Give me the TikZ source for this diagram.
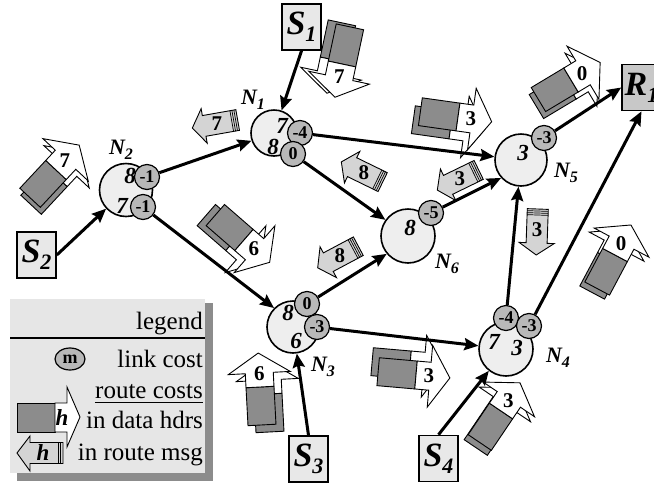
\documentclass[tikz,border=0pt]{standalone}
\usepackage{fontspec}
\setmainfont{Liberation Serif}
\usetikzlibrary{arrows.meta,shapes.geometric}
\pgfdeclarelayer{icons}
\pgfdeclarelayer{links}
\pgfsetlayers{icons,links,main}
\definecolor{nodefill}{HTML}{EEEEEE}
\definecolor{smallfill}{HTML}{B8B8B8}
\definecolor{srcfill}{HTML}{E8E8E8}
\definecolor{rcvfill}{HTML}{C8C8C8}
\definecolor{pktgray}{HTML}{8C8C8C}
\definecolor{msgfill}{HTML}{D4D4D4}
\definecolor{legbg}{HTML}{E6E6E6}
\definecolor{legshadow}{HTML}{8C8C8C}
\newcommand{\fsz}[1]{\fontsize{#1}{#1}\selectfont}
\tikzset{
  mainnode/.style={circle, draw, line width=1.6pt, fill=nodefill, inner sep=0pt},
  linknode/.style={circle, draw, line width=1.2pt, fill=smallfill, inner sep=0pt, minimum size=25pt, font=\fsz{18}\bfseries},
  costnum/.style={inner sep=0pt, font=\fsz{23}\bfseries\itshape},
  nlabel/.style={inner sep=0pt, font=\fsz{22}\bfseries\itshape},
  boxnode/.style={draw, line width=1.6pt, fill=srcfill, minimum width=39pt, minimum height=46pt, inner sep=0pt, font=\fsz{34}\bfseries\itshape},
  link/.style={line width=3pt, -{Stealth[length=14pt,width=12pt,inset=2pt]}},
  pktrect/.style={fill=pktgray, draw, line width=0.9pt},
  pktarrow/.style={fill=white, draw, line width=0.9pt, line join=miter},
  msgshape/.style={fill=msgfill, draw, line width=0.9pt, line join=miter},
  pktnum/.style={inner sep=0pt, font=\fsz{21}\bfseries},
  legtext/.style={inner sep=0pt, font=\fsz{25}},
}
% one copy of a data packet shape: angle, origin
\newcommand{\pktshape}[2]{%
  \begin{scope}[shift={(#2)}, rotate=#1]
    \filldraw[pktrect] (-38,-14) rectangle (0,14);
    \filldraw[pktarrow] (0,-14) -- (14,-14) -- (14,-31) -- (34,0) -- (14,31) -- (14,14) -- (0,14) -- cycle;
  \end{scope}}
% data packet: name, front origin, angle, number, back origin
\newcommand{\datapkt}[5]{%
  \pktshape{#3}{#5}\pktshape{#3}{#2}%
  \begin{scope}[shift={(#2)}, rotate=#3]
    \node[pktnum] (#1) at (13,0) {#4};
  \end{scope}}
% route message: name, centre, angle, number
\newcommand{\routemsg}[4]{%
  \begin{scope}[shift={(#2)}, rotate=#3]
    \filldraw[msgshape] (23,0) -- (11,-17.5) -- (11,-10.5) -- (-23,-10.5) -- (-23,10.5) -- (11,10.5) -- (11,17.5) -- cycle;
    \foreach \s in {-21,-19,-17} \draw[line width=0.7pt] (\s,-10.5) -- (\s,10.5);
    \node[pktnum] (#1) at (-2,0) {#4};
  \end{scope}}
\begin{document}
\begin{tikzpicture}[x=1pt,y=-1pt]
\useasboundingbox (0,0) rectangle (654,483);
% ---------- legend ----------
\fill[legshadow] (17,303) rectangle (213,481);
\fill[legbg] (10,299) rectangle (205,473);
\draw[line width=2pt] (10,338) -- (205,338);
\node[legtext, anchor=base east] (lg1) at (203,329) {legend};
\node[legtext, anchor=base east] (lg2) at (203,367) {link cost};
\node[legtext, anchor=base east] (lg3) at (203,398) {route costs};
\node[legtext, anchor=base east] (lg4) at (203,428) {in data hdrs};
\node[legtext, anchor=base east] (lg5) at (203,460) {in route msg};
\draw[line width=1pt] ([yshift=-4pt]lg3.base west) -- ([yshift=-4pt]lg3.base east);
\node[ellipse, draw, line width=1.2pt, fill=smallfill, minimum width=30pt, minimum height=22pt, inner sep=0pt, font=\fsz{18}\bfseries] (lgm) at (70,359) {m};
\filldraw[pktrect] (17,403) rectangle (55,432);
\filldraw[pktarrow] (55,403) -- (67,403) -- (67,387) -- (80,417) -- (67,447) -- (67,432) -- (55,432) -- cycle;
\node[costnum] (lgh1) at (62,418) {h};
\filldraw[msgshape] (17,453) -- (30,436) -- (30,442.5) -- (63,442.5) -- (63,463.5) -- (30,463.5) -- (30,471) -- cycle;
\foreach \s in {58,60.5} \draw[line width=0.8pt] (\s,442.5) -- (\s,463.5);
\node[costnum] (lgh2) at (43,453) {h};
% ---------- nodes ----------
\node[mainnode, minimum size=46pt] (n1) at (274,133) {};
\node[mainnode, minimum size=53pt] (n2) at (126,190) {};
\node[mainnode, minimum size=52pt] (n3) at (293,327) {};
\node[mainnode, minimum size=54pt] (n4) at (506,349) {};
\node[mainnode, minimum size=52pt] (n5) at (521,160) {};
\node[mainnode, minimum size=54pt] (n6) at (408,236) {};
\node[boxnode] (s1) at (301.5,27) {S\raisebox{-7pt}{\fsz{22}1}};
\node[boxnode] (s2) at (36.5,255) {S\raisebox{-7pt}{\fsz{22}2}};
\node[boxnode] (s3) at (308.5,459) {S\raisebox{-7pt}{\fsz{22}3}};
\node[boxnode] (s4) at (438.5,458.5) {S\raisebox{-7pt}{\fsz{22}4}};
\node[boxnode, fill=rcvfill] (r1) at (641.5,87.5) {R\raisebox{-7pt}{\fsz{22}1}};
% link-cost circles
\node[linknode] (c1a) at (300,133) {-4};
\node[linknode] (c1b) at (293,154) {0};
\node[linknode] (c2a) at (147,177) {-1};
\node[linknode] (c2b) at (143,207) {-1};
\node[linknode] (c3a) at (307,304) {0};
\node[linknode] (c3b) at (317,327) {-3};
\node[linknode] (c4a) at (506,318) {-4};
\node[linknode] (c4b) at (529,326) {-3};
\node[linknode] (c5a) at (544,138) {-3};
\node[linknode] (c6a) at (431,213) {-5};
% ---------- cost numbers ----------
\node[costnum] (k1a) at (282,126) {7};
\node[costnum] (k1b) at (273,147) {8};
\node[costnum] (k2a) at (130,176) {8};
\node[costnum] (k2b) at (122,206) {7};
\node[costnum] (k3a) at (288,313) {8};
\node[costnum] (k3b) at (296,341) {6};
\node[costnum] (k4a) at (494,342) {7};
\node[costnum] (k4b) at (517,348) {3};
\node[costnum] (k5a) at (523,153) {3};
\node[costnum] (k6a) at (410,228) {8};
% ---------- node labels ----------
\node[nlabel] (l1) at (253,100) {N\raisebox{-5pt}{\fsz{16}1}};
\node[nlabel] (l2) at (121,150) {N\raisebox{-5pt}{\fsz{16}2}};
\node[nlabel] (l3) at (323,367) {N\raisebox{-5pt}{\fsz{16}3}};
\node[nlabel] (l4) at (558,358) {N\raisebox{-5pt}{\fsz{16}4}};
\node[nlabel] (l5) at (566,173) {N\raisebox{-5pt}{\fsz{16}5}};
\node[nlabel] (l6) at (447,264) {N\raisebox{-5pt}{\fsz{16}6}};
% ---------- links (under the nodes) ----------
\begin{pgfonlayer}{links}
\draw[link] (c2a) -- (n1);
\draw[link] (c2b) -- (n3.135);
\draw[link] (c1a) -- (n5);
\draw[link] (c1b) -- (n6);
\draw[link] (c3a) -- (n6.220);
\draw[link] (c3b) -- (n4);
\draw[link] (c6a) -- (n5.222);
\draw[link] (c4a) -- (n5);
\draw[link] (c4b) -- (r1.south);
\draw[link] (c5a) -- (r1.west);
\draw[link] (s1.south) -- (n1);
\draw[link] (s2.east) -- (n2);
\draw[link] (s3.north) -- (n3);
\draw[link] (s4.north) -- (n4);
\end{pgfonlayer}
% ---------- packets and route messages ----------
\begin{pgfonlayer}{icons}
\datapkt{pa}{56,170}{47}{7}{57,177}
\datapkt{pb}{342,64}{-102}{7}{334,60}
\datapkt{pc}{458,117}{-8}{3}{451,125}
\datapkt{pd}{571,80}{31}{0}{569,87}
\datapkt{pe}{244,240}{-41}{6}{235,240}
\datapkt{pf}{260,387}{93}{6}{268,394}
\datapkt{pg}{416,375}{-5}{3}{410,365}
\datapkt{ph}{501,411}{56}{3}{497,416}
\datapkt{pi}{615,255}{62}{0}{610,259}
\routemsg{ra}{215,124}{190}{7}
\routemsg{rb}{362,172}{154}{8}
\routemsg{rc}{458,180}{206}{3}
\routemsg{rd}{338,257}{208}{8}
\routemsg{re}{537,232}{-92}{3}
\end{pgfonlayer}
\end{tikzpicture}
\end{document}
